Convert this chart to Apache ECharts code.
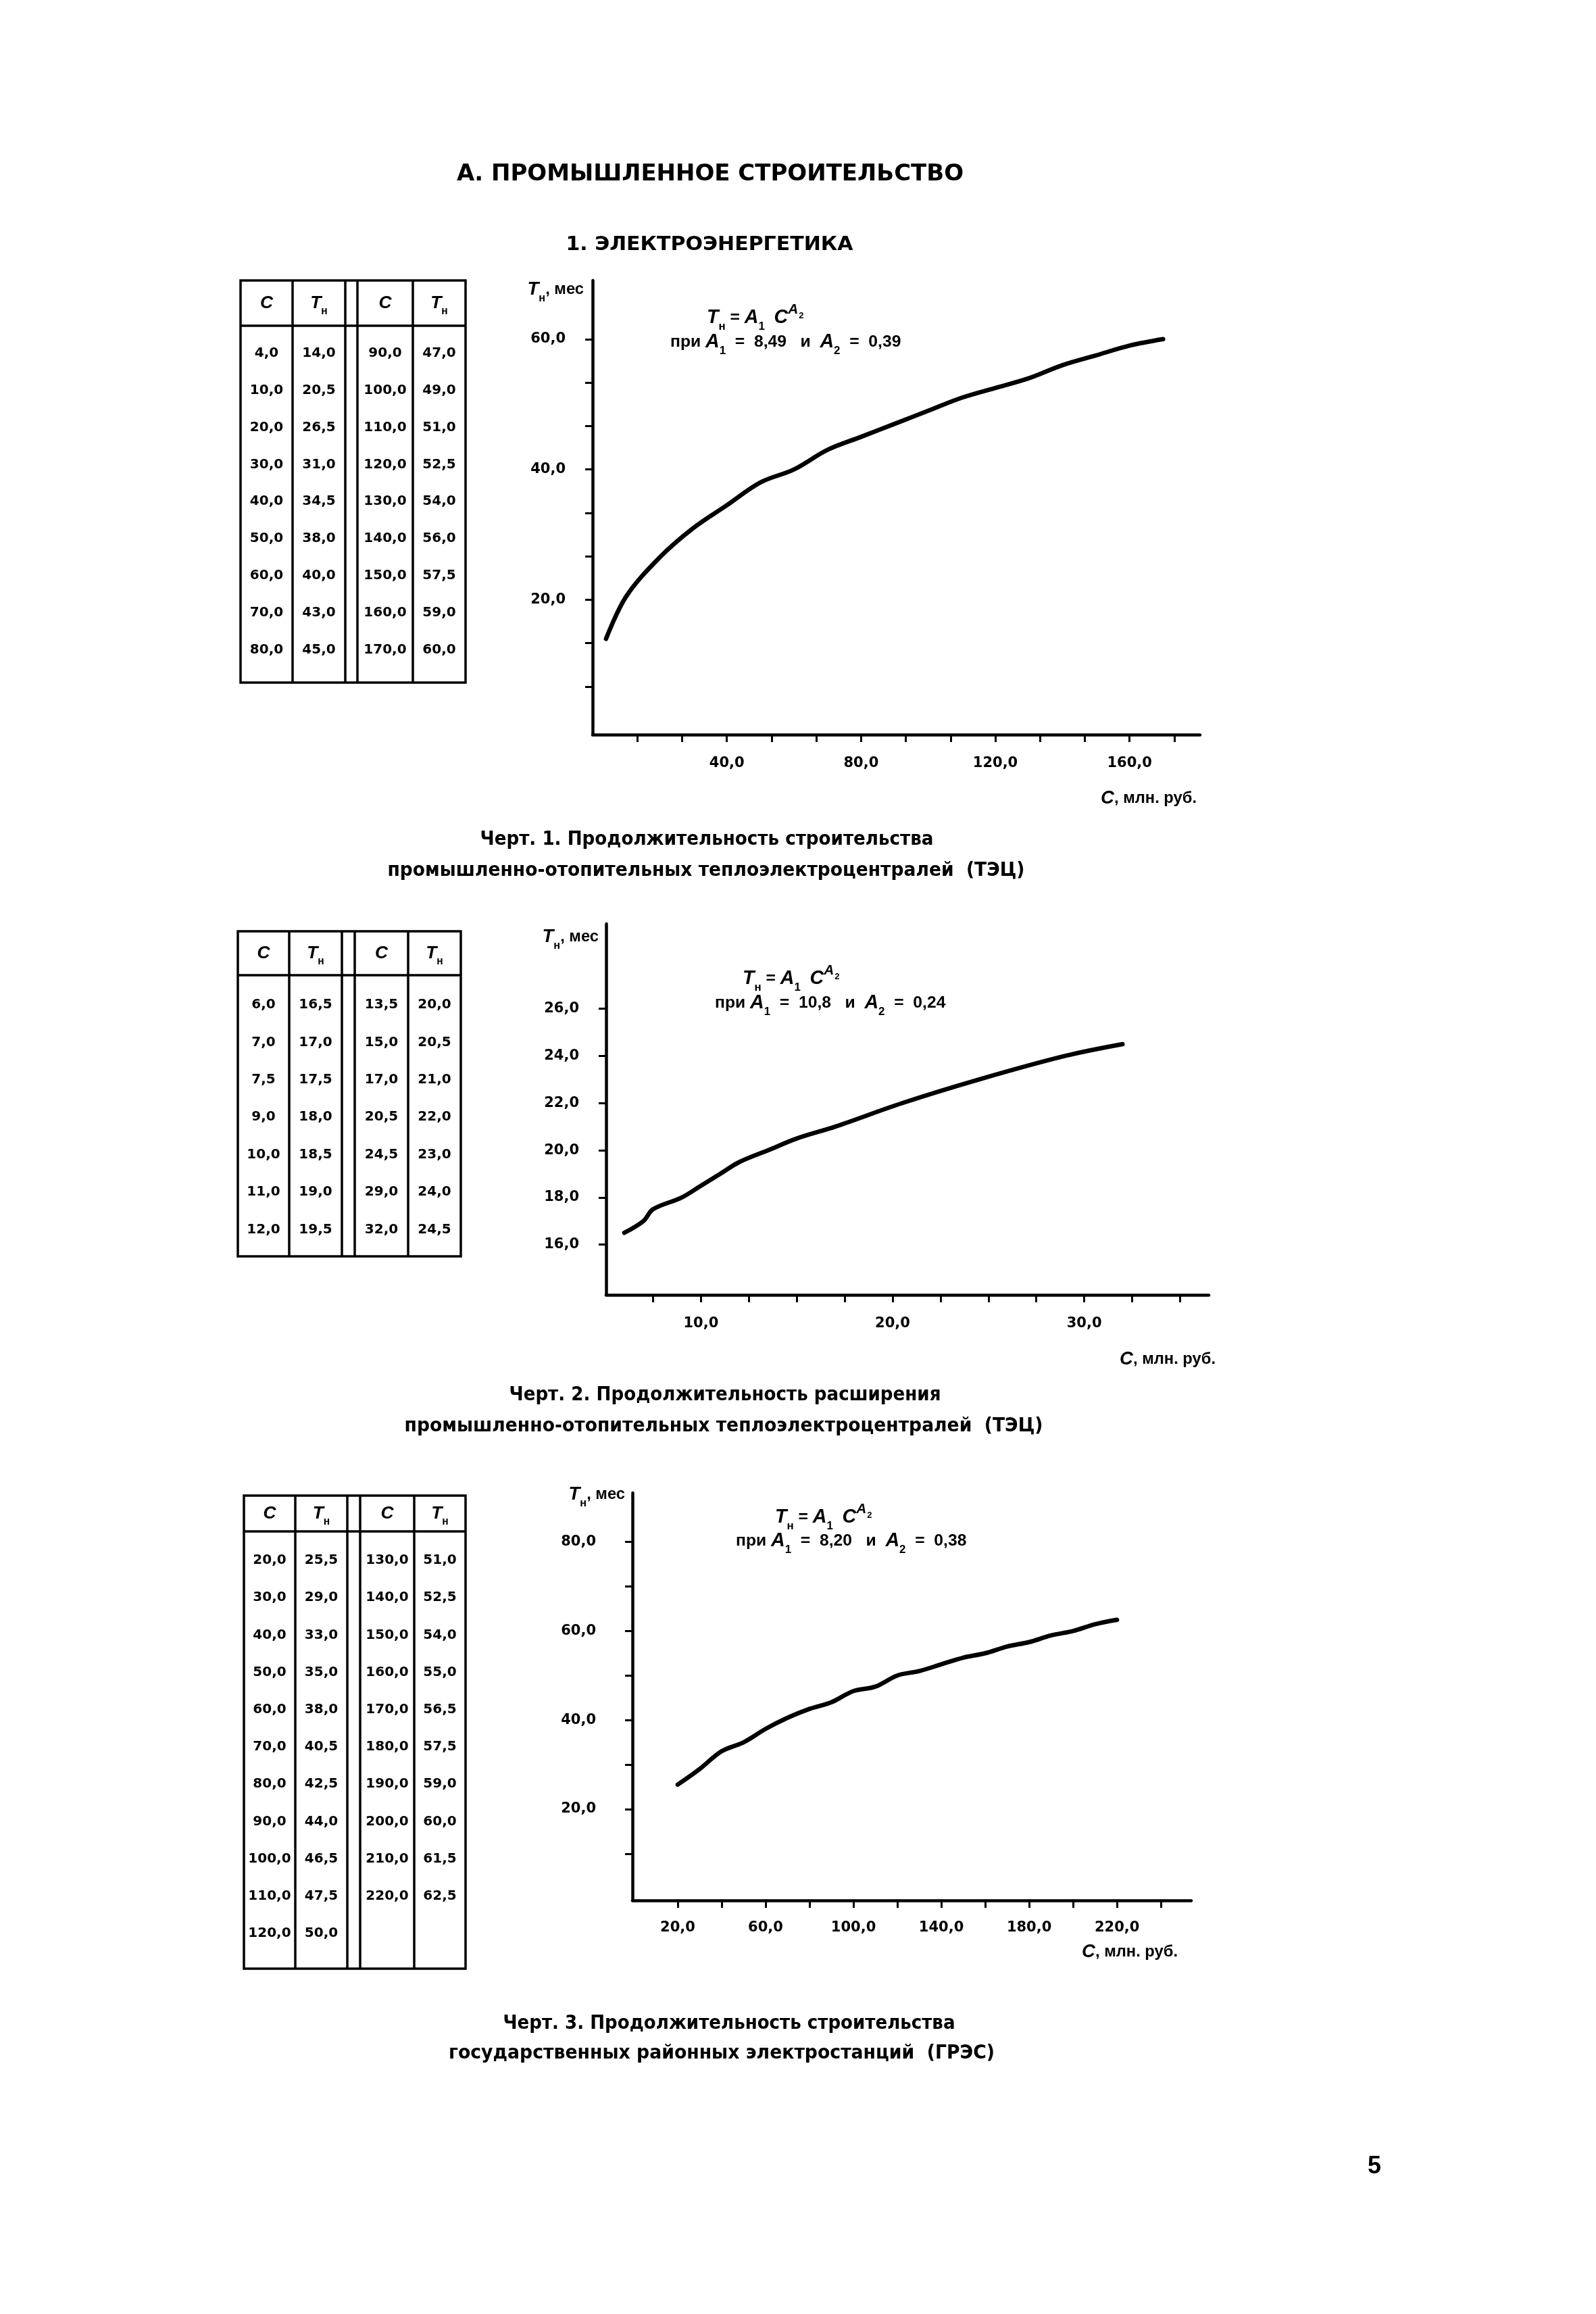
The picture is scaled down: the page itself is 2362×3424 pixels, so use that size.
<!DOCTYPE html>
<html><head><meta charset="utf-8">
<script src="https://cdn.jsdelivr.net/npm/echarts@6/dist/echarts.min.js"></script>
<style>html,body{margin:0;padding:0;background:#fff}#c{width:2362px;height:3424px}</style>
</head><body><div id="c"></div>
<script>
// ---------- DATA ----------
// Chart 1 (ТЭЦ, строительство)
const c1C = [4, 10, 20, 30, 40, 50, 60, 70, 80, 90, 100, 110, 120, 130, 140, 150, 160, 170];
const c1T = [14, 20.5, 26.5, 31, 34.5, 38, 40, 43, 45, 47, 49, 51, 52.5, 54, 56, 57.5, 59, 60];
const c1XTicks = [13.33, 26.67, 40, 53.33, 66.67, 80, 93.33, 106.67, 120, 133.33, 146.67, 160, 173.33];
const c1XLabels = [40, 80, 120, 160];
const c1YTicks = [6.67, 13.33, 20, 26.67, 33.33, 40, 46.67, 53.33, 60];
const c1YLabels = [20, 40, 60];
// Chart 2 (ТЭЦ, расширение)
const c2C = [6, 7, 7.5, 9, 10, 11, 12, 13.5, 15, 17, 20.5, 24.5, 29, 32];
const c2T = [16.5, 17, 17.5, 18, 18.5, 19, 19.5, 20, 20.5, 21, 22, 23, 24, 24.5];
const c2XTicks = [7.5, 10, 12.5, 15, 17.5, 20, 22.5, 25, 27.5, 30, 32.5, 35];
const c2XLabels = [10, 20, 30];
const c2YTicks = [16, 18, 20, 22, 24, 26];
const c2YLabels = [16, 18, 20, 22, 24, 26];
// Chart 3 (ГРЭС)
const c3C = [20, 30, 40, 50, 60, 70, 80, 90, 100, 110, 120, 130, 140, 150, 160, 170, 180, 190, 200, 210, 220];
const c3T = [25.5, 29, 33, 35, 38, 40.5, 42.5, 44, 46.5, 47.5, 50, 51, 52.5, 54, 55, 56.5, 57.5, 59, 60, 61.5, 62.5];
const c3XTicks = [20, 40, 60, 80, 100, 120, 140, 160, 180, 200, 220, 240];
const c3XLabels = [20, 60, 100, 140, 180, 220];
const c3YTicks = [10, 20, 30, 40, 50, 60, 70, 80];
const c3YLabels = [20, 40, 60, 80];
// Texts
const pageTitle = 'А. ПРОМЫШЛЕННОЕ СТРОИТЕЛЬСТВО';
const sectionTitle = '1. ЭЛЕКТРОЭНЕРГЕТИКА';
const caption1 = ['Черт. 1. Продолжительность строительства', 'промышленно-отопительных теплоэлектроцентралей  (ТЭЦ)'];
const caption2 = ['Черт. 2. Продолжительность расширения', 'промышленно-отопительных теплоэлектроцентралей  (ТЭЦ)'];
const caption3 = ['Черт. 3. Продолжительность строительства', 'государственных районных электростанций  (ГРЭС)'];
const coef1 = ['8,49', '0,39'];
const coef2 = ['10,8', '0,24'];
const coef3 = ['8,20', '0,38'];
const pageNumber = '5';

// ---------- STYLE / LAYOUT ----------
const SANS = '"Liberation Sans", Arial, sans-serif';
const NARROW = '"Liberation Sans Narrow", "DejaVu Sans Condensed", "Liberation Sans", sans-serif';
const WIDE = '"DejaVu Sans", "Liberation Sans", sans-serif';
const fmt = v => Number(v).toFixed(1).replace('.', ',');

const mctx = document.createElement('canvas').getContext('2d');
function fitText(text, cx, cy, targetW, size, family) {
  mctx.font = 'bold ' + size + 'px ' + family;
  const w = mctx.measureText(text).width || 1;
  return {type: 'text', x: cx, y: cy, scaleX: targetW / w, silent: true,
    style: {text, x: 0, y: 0, align: 'center', verticalAlign: 'middle', textAlign: 'center', textVerticalAlign: 'middle',
      fontFamily: family, fontWeight: 'bold', fontSize: size, fill: '#000'}};
}

function makeRich(k) {
  return {
    it: {fontFamily: SANS, fontStyle: 'italic', fontWeight: 'bold', fontSize: 22 * k, lineHeight: 34 * k, verticalAlign: 'middle', color: '#000'},
    n: {fontFamily: SANS, fontWeight: 'bold', fontSize: 19 * k, lineHeight: 34 * k, verticalAlign: 'middle', color: '#000'},
    sub: {fontFamily: SANS, fontWeight: 'bold', fontSize: 13 * k, lineHeight: 13 * k, verticalAlign: 'bottom', color: '#000'},
    sup: {fontFamily: SANS, fontStyle: 'italic', fontWeight: 'bold', fontSize: 16 * k, lineHeight: 16 * k, verticalAlign: 'top', color: '#000'},
    supsub: {fontFamily: SANS, fontWeight: 'bold', fontSize: 10 * k, lineHeight: 10 * k, verticalAlign: 'top', padding: [10 * k, 0, 0, 1], color: '#000'}
  };
}
const RICH_F = makeRich(1.3);
const RICH_A = makeRich(1.25);
const RICH_H = makeRich(1.2);
function richText(text, x, y, align, rich) {
  return {type: 'text', x, y, silent: true,
    style: {text, x: 0, y: 0, rich, align, verticalAlign: 'middle', textAlign: align, textVerticalAlign: 'middle',
      fontFamily: SANS, fontWeight: 'bold', fontSize: 19, fill: '#000'}};
}
function formula1() { return '{it|Т}{sub|н}{n| = }{it|А}{sub|1}{n|  }{it|С}{sup|А}{supsub|2}'; }
function formula2(c) { return '{n|при }{it|А}{sub|1}{n|  =  ' + c[0] + '   и  }{it|А}{sub|2}{n|  =  ' + c[1] + '}'; }
const yName = '{it|Т}{sub|н}{n|, мес}';
const xName = '{it|С}{n|, млн. руб.}';

function tableEls(t, rowsPerHalf, C, T) {
  const els = [];
  const L = {stroke: '#000', lineWidth: 3.5};
  const c = t.cols;
  els.push({type: 'rect', silent: true, shape: {x: c[0], y: t.top, width: c[5] - c[0], height: t.bottom - t.top}, style: {fill: 'none', stroke: '#000', lineWidth: 3.5}});
  for (let i = 1; i < 5; i++) els.push({type: 'line', silent: true, shape: {x1: c[i], y1: t.top, x2: c[i], y2: t.bottom}, style: L});
  els.push({type: 'line', silent: true, shape: {x1: c[0], y1: t.header, x2: c[5], y2: t.header}, style: L});
  const hy = (t.top + t.header) / 2;
  const centers = [(c[0] + c[1]) / 2, (c[1] + c[2]) / 2, (c[3] + c[4]) / 2, (c[4] + c[5]) / 2];
  ['{it|С}', '{it|Т}{sub|н}', '{it|С}', '{it|Т}{sub|н}'].forEach((h, i) => els.push(richText(h, centers[i], hy, 'center', RICH_H)));
  C.forEach((v, i) => {
    const half = i < rowsPerHalf ? 0 : 1;
    const r = i - half * rowsPerHalf;
    const y = t.row0 + r * t.step;
    [[centers[half * 2], fmt(v)], [centers[half * 2 + 1], fmt(T[i])]].forEach(([x, s]) => els.push({
      type: 'text', silent: true, x, y,
      style: {text: s, x: 0, y: 0, align: 'center', verticalAlign: 'middle', textAlign: 'center', textVerticalAlign: 'middle',
        fontFamily: WIDE, fontWeight: 'bold', fontSize: 20, fill: '#000'}}));
  });
  return els;
}

function ax(gi, min, max, ticks, labels, margin) {
  return {type: 'value', gridIndex: gi, min, max, splitLine: {show: false},
    axisLine: {onZero: false, lineStyle: {color: '#000', width: 4.5}},
    axisTick: {customValues: ticks, length: 11, lineStyle: {color: '#000', width: 3}},
    axisLabel: {customValues: labels, formatter: fmt, margin, color: '#000', fontFamily: WIDE, fontWeight: 'bold', fontSize: 21}};
}
function curve(i, C, T) {
  return {type: 'line', xAxisIndex: i, yAxisIndex: i, data: C.map((c, k) => [c, T[k]]), smooth: 0.35,
    showSymbol: false, symbol: 'none', silent: true, lineStyle: {color: '#000', width: 6.5, cap: 'round', join: 'round'}};
}

const graphics = [].concat(
  [fitText(pageTitle, 1051, 258, 750, 34, NARROW), fitText(sectionTitle, 1050, 362, 425, 29, NARROW)],
  tableEls({cols: [356, 433, 511, 529, 611, 689], top: 415, header: 482, row0: 523, step: 54.8, bottom: 1010}, 9, c1C, c1T),
  [richText(formula1(), 1046, 470, 'left', RICH_F), richText(formula2(coef1), 992, 506, 'left', RICH_F),
   richText(yName, 864, 428, 'right', RICH_A), richText(xName, 1771, 1181, 'right', RICH_A),
   fitText(caption1[0], 1046, 1242, 671, 29, NARROW), fitText(caption1[1], 1045, 1288, 943, 29, NARROW)],
  tableEls({cols: [352, 428, 506, 525, 604, 682], top: 1378, header: 1443, row0: 1487, step: 55.4, bottom: 1859}, 7, c2C, c2T),
  [richText(formula1(), 1099, 1448, 'left', RICH_F), richText(formula2(coef2), 1058, 1484, 'left', RICH_F),
   richText(yName, 886, 1386, 'right', RICH_A), richText(xName, 1799, 2011, 'right', RICH_A),
   fitText(caption2[0], 1073, 2064, 639, 29, NARROW), fitText(caption2[1], 1071, 2110, 945, 29, NARROW)],
  tableEls({cols: [361, 437, 514, 533, 613, 689], top: 2213, header: 2266, row0: 2309, step: 55.2, bottom: 2913}, 11, c3C, c3T),
  [richText(formula1(), 1147, 2245, 'left', RICH_F), richText(formula2(coef3), 1089, 2280, 'left', RICH_F),
   richText(yName, 925, 2211, 'right', RICH_A), richText(xName, 1743, 2888, 'right', RICH_A),
   fitText(caption3[0], 1079, 2994, 669, 29, NARROW), fitText(caption3[1], 1068, 3038, 808, 29, NARROW),
   {type: 'text', x: 2034, y: 3206, silent: true, style: {text: pageNumber, x: 0, y: 0, align: 'center', verticalAlign: 'middle', textAlign: 'center', textVerticalAlign: 'middle', fontFamily: SANS, fontWeight: 'bold', fontSize: 36, fill: '#000'}}]
);

const chart = echarts.init(document.getElementById('c'));
chart.setOption({
  backgroundColor: '#fff',
  animation: false,
  grid: [
    {left: 877, top: 415, width: 899, height: 672},
    {left: 897, top: 1367, width: 892, height: 549},
    {left: 936, top: 2209, width: 827, height: 603}
  ],
  xAxis: [
    ax(0, 0, 181, c1XTicks, c1XLabels, 32),
    ax(1, 5.05, 36.5, c2XTicks, c2XLabels, 32),
    ax(2, -0.6, 253.8, c3XTicks, c3XLabels, 30)
  ],
  yAxis: [
    ax(0, -0.7, 69, c1YTicks, c1YLabels, 40),
    ax(1, 13.87, 29.6, c2YTicks, c2YLabels, 40),
    ax(2, -0.5, 91, c3YTicks, c3YLabels, 54)
  ],
  series: [curve(0, c1C, c1T), curve(1, c2C, c2T), curve(2, c3C, c3T)],
  graphic: {elements: graphics}
});
</script></body></html>
